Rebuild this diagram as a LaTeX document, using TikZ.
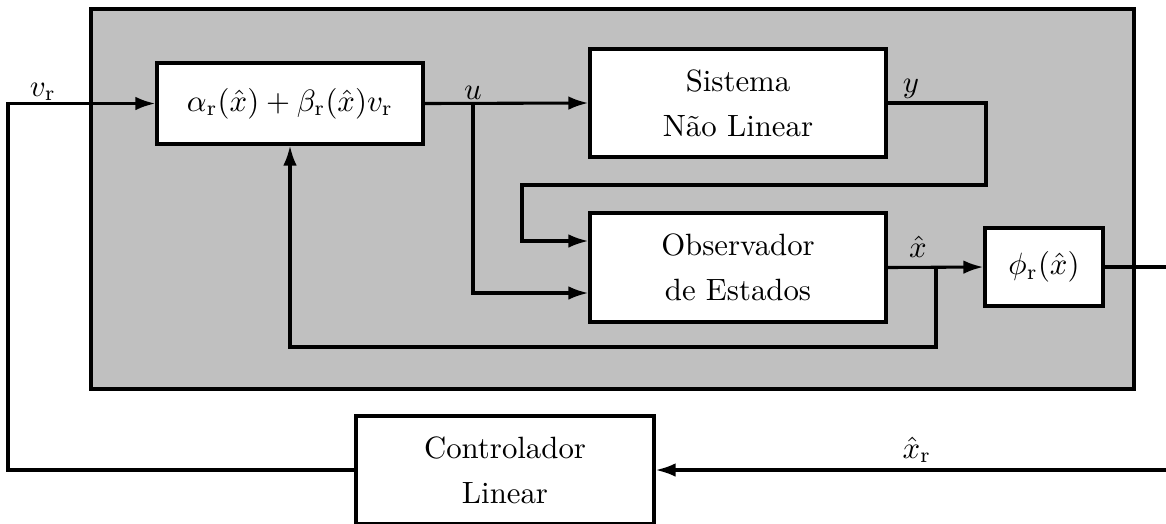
\documentclass[tikz,border=0pt]{standalone}
\usetikzlibrary{arrows.meta,calc}
\definecolor{plantgray}{RGB}{192,192,192}
\def\PX{0.3247pt}
\begin{document}
\begin{tikzpicture}[x=0.3247pt,y=-0.3247pt,
  line width=1pt,
  blk/.style={draw,fill=white,line width=1pt,align=center,inner sep=0pt},
  arr/.style={-{Latex[length=6.5pt,width=4.4pt]}},
  lbl/.style={anchor=base,inner sep=0pt}]
\useasboundingbox (0,0) rectangle (1166,523);
% plant background
\node[draw,fill=plantgray,line width=1.2pt,minimum width=1043*\PX,minimum height=380*\PX,inner sep=0pt] (plant) at (612.5,199) {};
% blocks
\node[blk,minimum width=266*\PX,minimum height=81*\PX] (alpha) at (290,103.5)
  {$\alpha_\mathrm{r}(\hat{x})+\beta_\mathrm{r}(\hat{x})v_\mathrm{r}$};
\node[blk,minimum width=296*\PX,minimum height=108*\PX] (sys) at (738,103)
  {Sistema\\[2.6pt]N\~ao Linear};
\node[blk,minimum width=296*\PX,minimum height=109*\PX] (obs) at (738,267.5)
  {Observador\\[2.6pt]de Estados};
\node[blk,minimum width=118*\PX,minimum height=78*\PX] (phi) at (1044,267)
  {$\phi_\mathrm{r}(\hat{x})$};
\node[blk,minimum width=298*\PX,minimum height=108*\PX] (ctrl) at (505,470)
  {Controlador\\[2.6pt]Linear};
% helper coordinates
\coordinate (cL) at (8,0);
\coordinate (ub) at (473,103.5);
\coordinate (yR) at (986,185);
\coordinate (yL) at (522,185);
\coordinate (obsA) at ($(obs.west)+(0,-26.5)$);
\coordinate (obsB) at ($(obs.west)+(0,25.5)$);
\coordinate (xb) at (936,267.5);
\coordinate (xL) at (290,347);
\coordinate (pOut) at (1166,0);
\coordinate (xrIn) at (1166,470);
% connectors
\draw[arr] (ctrl.west) -- (ctrl.west -| cL) |- (alpha.west);
\draw[arr] (alpha.east) -- (sys.west);
\draw[arr] (ub) |- (obsB);
\draw[arr] (sys.east) -| (yR) -- (yL) |- (obsA);
\draw[arr] (obs.east) -- (phi.west);
\draw[arr] (xb) |- (xL) -- (alpha.south);
\draw (phi.east) -- (phi.east -| pOut);
\draw[arr] (xrIn) -- (ctrl.east);
% labels
\node[lbl] (lvr) at (43,96) {$v_\mathrm{r}$};
\node[lbl] (lu) at (473,99) {$u$};
\node[lbl] (ly) at (911,92) {$y$};
\node[lbl] (lx) at (918,257) {$\hat{x}$};
\node[lbl] (lxr) at (917,458) {$\hat{x}_\mathrm{r}$};
\end{tikzpicture}
\end{document}
